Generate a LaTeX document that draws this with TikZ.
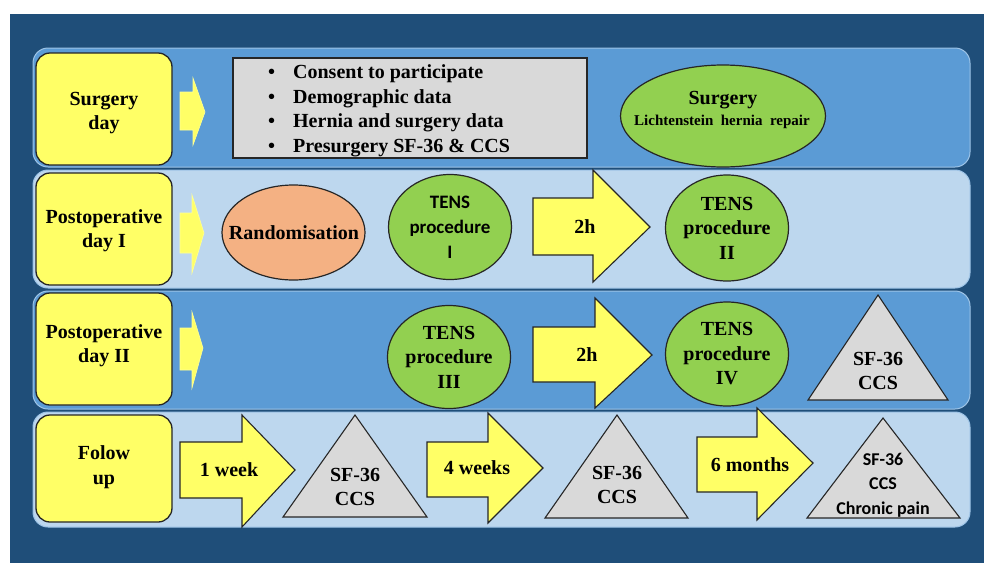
\documentclass[tikz,border=0pt]{standalone}
\usepackage{fontspec}
\setmainfont{Liberation Serif}
\newfontfamily\calfont{Carlito}
\usetikzlibrary{shapes.geometric}
\definecolor{bgdark}{HTML}{1F4E79}
\definecolor{bandmid}{HTML}{5B9BD5}
\definecolor{bandlight}{HTML}{BDD7EE}
\definecolor{bandedge}{HTML}{9DC3E6}
\definecolor{yel}{HTML}{FFFF66}
\definecolor{grn}{HTML}{92D050}
\definecolor{salmon}{HTML}{F4B183}
\definecolor{gry}{HTML}{D9D9D9}
\definecolor{edge}{HTML}{262626}
\begin{document}
\begin{tikzpicture}[x=1pt,y=-1pt,
  txt/.style={font=\bfseries\fontsize{20}{24.5}\selectfont, align=center, inner sep=0pt},
  caltxt/.style={font=\calfont\bfseries\fontsize{19}{25}\selectfont, align=center, inner sep=0pt},
  band/.style={draw=bandedge, line width=1pt, rounded corners=15pt},
  daybox/.style={draw=edge, fill=yel, line width=1.3pt, rounded corners=14pt,
    minimum width=136pt, inner sep=0pt},
  smallarrow/.style={fill=yel, draw=yel!70!white, line width=0.6pt},
  bigarrow/.style={draw=edge, fill=yel, line width=1.1pt, line join=miter},
  oval/.style={ellipse, draw=edge, line width=1.2pt, inner sep=0pt},
  tri/.style={draw=edge, fill=gry, line width=1.1pt, line join=miter},
  graybox/.style={draw=edge, fill=gry, line width=1.3pt, inner sep=0pt}
]
\useasboundingbox (0,0) rectangle (984,563);
\fill[white] (0,0) rectangle (984,563);
\fill[bgdark] (10,14) rectangle (984,563);

% bands
\draw[band, fill=bandmid]   (33,48)  rectangle (970,167);
\draw[band, fill=bandlight] (33,170) rectangle (970,288);
\draw[band, fill=bandmid]   (33,291) rectangle (970,409);
\draw[band, fill=bandlight] (33,412) rectangle (970,527);

% day boxes
\node[daybox, minimum height=112pt] (sd) at (104,109) {};
\node[txt] (sdt) at (104,113) {Surgery\\day};
\node[daybox, minimum height=112pt] (p1) at (104,229) {};
\node[txt] (p1t) at (104,230.5) {Postoperative\\day I};
\node[daybox, minimum height=112pt] (p2) at (104,349) {};
\node[txt] (p2t) at (104,345.5) {Postoperative\\day II};
\node[daybox, minimum height=107pt] (fu) at (104,468.5) {};
\node[txt] (fut) at (104,467) {Folow\\up};

% small arrows
\filldraw[smallarrow] (180,92) -- (193,92) -- (193,78) -- (205,112) -- (193,145) -- (193,130) -- (180,130) -- cycle;
\filldraw[smallarrow] (180,213) -- (192,213) -- (192,195) -- (204,233) -- (192,273) -- (192,253) -- (180,253) -- cycle;
\filldraw[smallarrow] (180,328) -- (192,328) -- (192,312) -- (203,348) -- (192,388) -- (192,370) -- (180,370) -- cycle;

% row 1
\node[graybox, minimum width=354pt, minimum height=100pt] (data) at (410,108) {};
\node[txt, align=left, anchor=west] (list) at (268,111) {%
  \makebox[25pt][l]{\textbullet}Consent to participate\\
  \makebox[25pt][l]{\textbullet}Demographic data\\
  \makebox[25pt][l]{\textbullet}Hernia and surgery data\\
  \makebox[25pt][l]{\textbullet}Presurgery SF-36 \& CCS};
\node[oval, fill=grn, minimum width=205pt, minimum height=102pt] (surg) at (723,116) {};
\node[txt] (surgt) at (723,100) {Surgery};
\node[txt, font=\bfseries\fontsize{15}{16}\selectfont] (licht) at (722,122) {Lichtenstein\ \ hernia\ \ repair};

% row 2
\node[oval, fill=salmon, minimum width=143pt, minimum height=95pt] (rand) at (293.5,232.5) {};
\node[txt] (randt) at (294,232.5) {Randomisation};
\node[oval, fill=grn, minimum width=123pt, minimum height=105pt, caltxt] (t1) at (450,227) {TENS\\procedure\\I};
\draw[bigarrow] (533,198) -- (593,198) -- (593,170) -- (650,227) -- (593,282) -- (593,255) -- (533,255) -- cycle;
\node[txt] (h1) at (585,227) {2h};
\node[oval, fill=grn, minimum width=120pt, minimum height=106pt, txt] (t2) at (727,228) {TENS\\procedure\\II};

% row 3
\node[oval, fill=grn, minimum width=122pt, minimum height=103pt, txt] (t3) at (449,357) {TENS\\procedure\\III};
\draw[bigarrow] (533,327) -- (595,327) -- (595,298) -- (652,355) -- (595,408) -- (595,382) -- (533,382) -- cycle;
\node[txt] (h2) at (587,355) {2h};
\node[oval, fill=grn, minimum width=121pt, minimum height=104pt, txt] (t4) at (727,354) {TENS\\procedure\\IV};
\draw[tri] (878,295) -- (948,400) -- (808,400) -- cycle;
\node[txt] (q1) at (878,371) {SF-36\\CCS};

% row 4
\draw[bigarrow] (180,442) -- (242,442) -- (242,415) -- (295,470) -- (242,527) -- (242,498) -- (180,498) -- cycle;
\node[txt] (w1) at (229,470) {1 week};
\draw[tri] (355,415) -- (427,517) -- (283,517) -- cycle;
\node[txt] (q2) at (355,487) {SF-36\\CCS};
\draw[bigarrow] (427,442) -- (488,442) -- (488,413) -- (543,468) -- (488,523) -- (488,497) -- (427,497) -- cycle;
\node[txt] (w4) at (477,468) {4 weeks};
\draw[tri] (617,415) -- (688,518) -- (545,518) -- cycle;
\node[txt] (q3) at (617,485) {SF-36\\CCS};
\draw[bigarrow] (697,437) -- (757,437) -- (757,408) -- (813,463) -- (757,520) -- (757,492) -- (697,492) -- cycle;
\node[txt] (m6) at (750,465) {6 months};
\draw[tri] (883,418) -- (960,518) -- (807,518) -- cycle;
\node[caltxt, font=\calfont\bfseries\fontsize{18}{24.5}\selectfont] (q4) at (883,485) {SF-36\\CCS\\Chronic pain};
\end{tikzpicture}
\end{document}
